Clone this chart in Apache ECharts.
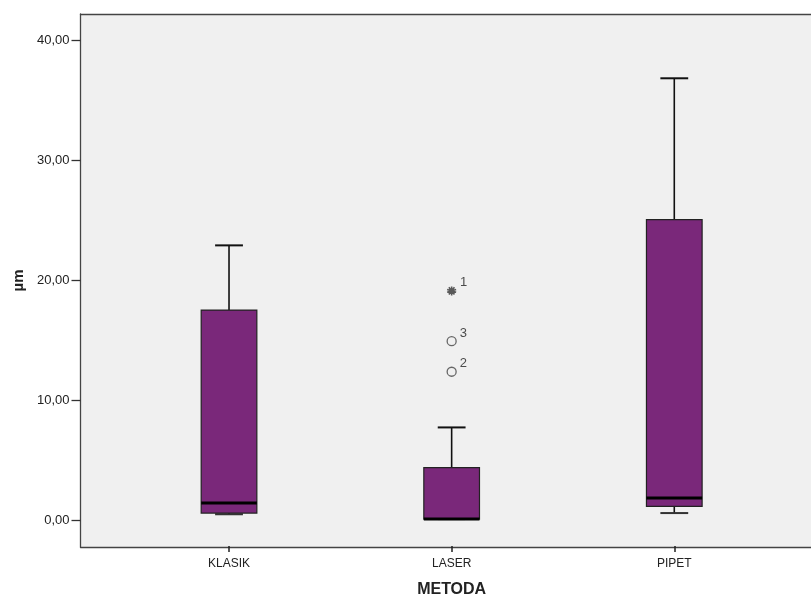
<!DOCTYPE html>
<html>
<head>
<meta charset="utf-8">
<script src="https://cdn.jsdelivr.net/npm/echarts@6/dist/echarts.min.js"></script>
<style>html,body{margin:0;padding:0;background:#fff}#c{width:811px;height:603px}</style>
</head>
<body>
<div id="c"></div>
<script>
// ---- data ----
var categories = ['KLASIK', 'LASER', 'PIPET'];
var whiskerLow = [0.4, 0.0, 0.5];
var q1 = [0.5, 0.0, 1.05];
var median = [1.35, 0.0, 1.75];
var q3 = [17.45, 4.3, 25.0];
var whiskerHigh = [22.85, 7.65, 36.8];
var outlierCategory = [1, 1, 1];
var outlierValues = [19.05, 14.85, 12.3];
var outlierIds = ['1', '3', '2'];
var outlierExtreme = [true, false, false];
var yTicks = [0, 10, 20, 30, 40];

var FONT = 'Liberation Sans, Arial, sans-serif';
var BOX = '#7a287a';

var boxRows = categories.map(function (c, i) {
  return [i, whiskerLow[i], q1[i], median[i], q3[i], whiskerHigh[i]];
});

var outlierData = outlierValues.map(function (v, i) {
  return {
    value: [outlierCategory[i], v],
    name: outlierIds[i],
    symbol: outlierExtreme[i] ? 'path://M0,-5L0,5M-4.7,-1.6L4.7,1.6M-4.7,1.6L4.7,-1.6M-2.9,4L2.9,-4M2.9,4L-2.9,-4' : 'circle',
    symbolSize: 9,
    itemStyle: outlierExtreme[i]
      ? { color: 'rgba(0,0,0,0)', borderColor: '#333', borderWidth: 1.6 }
      : { color: 'rgba(0,0,0,0)', borderColor: '#444', borderWidth: 1.3 }
  };
});

var YMIN = -2.25, YMAX = 42.1667;
var frameLine = { show: true, onZero: false, lineStyle: { color: '#444', width: 1.3 } };

var chart = echarts.init(document.getElementById('c'), null, { renderer: 'canvas' });
chart.setOption({
  animation: false,
  backgroundColor: '#fff',
  grid: [
    { left: 80.5, right: 0, top: 14, bottom: 56, show: true, backgroundColor: '#f0f0f0', borderWidth: 0 },
    { left: 117.7, right: 25.4, top: 14, bottom: 56 }
  ],
  xAxis: [
    { gridIndex: 0, type: 'value', position: 'bottom', min: 0, max: 1, axisLine: frameLine,
      axisTick: { show: false }, axisLabel: { show: false }, splitLine: { show: false } },
    {
      gridIndex: 1, type: 'category', data: categories, boundaryGap: true, position: 'bottom',
      axisLine: { show: false, onZero: false },
      axisTick: { show: true, alignWithLabel: true, length: 6, lineStyle: { color: '#222', width: 1.5 } },
      axisLabel: { color: '#222', fontFamily: FONT, fontSize: 12, margin: 12 },
      name: 'METODA', nameLocation: 'middle', nameGap: 36,
      nameTextStyle: { fontFamily: FONT, fontSize: 16, fontWeight: 'bold', color: '#222' },
      splitLine: { show: false }
    },
    { gridIndex: 0, type: 'value', position: 'top', min: 0, max: 1, axisLine: frameLine,
      axisTick: { show: false }, axisLabel: { show: false }, splitLine: { show: false } }
  ],
  yAxis: [
    {
      gridIndex: 0, type: 'value', min: YMIN, max: YMAX,
      axisLine: frameLine,
      axisTick: { show: true, length: 9, customValues: yTicks, lineStyle: { color: '#333', width: 1.3 } },
      axisLabel: {
        customValues: yTicks, color: '#222', fontFamily: FONT, fontSize: 13, margin: 11,
        formatter: function (v) { return v.toFixed(2).replace('.', ','); }
      },
      splitLine: { show: false },
      name: 'µm', nameLocation: 'middle', nameGap: 52, nameRotate: 90,
      nameTextStyle: { fontFamily: FONT, fontSize: 15, fontWeight: 'bold', color: '#222' }
    },
    { gridIndex: 1, type: 'value', min: YMIN, max: YMAX, show: false, splitLine: { show: false } }
  ],
  series: [
    {
      type: 'custom',
      xAxisIndex: 1, yAxisIndex: 1,
      encode: { x: 0, y: [1, 2, 3, 4, 5] },
      data: boxRows,
      renderItem: function (params, api) {
        var i = api.value(0);
        var lo = api.coord([i, api.value(1)]);
        var a = api.coord([i, api.value(2)]);
        var m = api.coord([i, api.value(3)]);
        var b = api.coord([i, api.value(4)]);
        var hi = api.coord([i, api.value(5)]);
        var w = api.size([1, 0])[0] * 0.25;
        var cx = lo[0];
        var cap = w / 4;
        return {
          type: 'group',
          children: [
            { type: 'line', shape: { x1: cx, y1: b[1], x2: cx, y2: hi[1] }, style: { stroke: '#111', lineWidth: 1.6 } },
            { type: 'line', shape: { x1: cx - cap, y1: hi[1], x2: cx + cap, y2: hi[1] }, style: { stroke: '#111', lineWidth: 2 } },
            { type: 'line', shape: { x1: cx, y1: a[1], x2: cx, y2: lo[1] }, style: { stroke: '#111', lineWidth: 1.6 } },
            { type: 'line', shape: { x1: cx - cap, y1: lo[1], x2: cx + cap, y2: lo[1] }, style: { stroke: '#333', lineWidth: 2 } },
            { type: 'rect', shape: { x: cx - w / 2, y: b[1], width: w, height: a[1] - b[1] }, style: { fill: BOX, stroke: '#222', lineWidth: 1.2 } },
            { type: 'line', shape: { x1: cx - w / 2, y1: m[1], x2: cx + w / 2, y2: m[1] }, style: { stroke: '#000', lineWidth: 3 } }
          ]
        };
      },
      z: 2
    },
    {
      type: 'scatter',
      xAxisIndex: 1, yAxisIndex: 1,
      data: outlierData,
      label: {
        show: true, position: 'right', distance: 3, offset: [0, -8],
        formatter: function (p) { return p.name; },
        fontFamily: FONT, fontSize: 13, color: '#222'
      },
      z: 3
    }
  ]
});
</script>
</body>
</html>
